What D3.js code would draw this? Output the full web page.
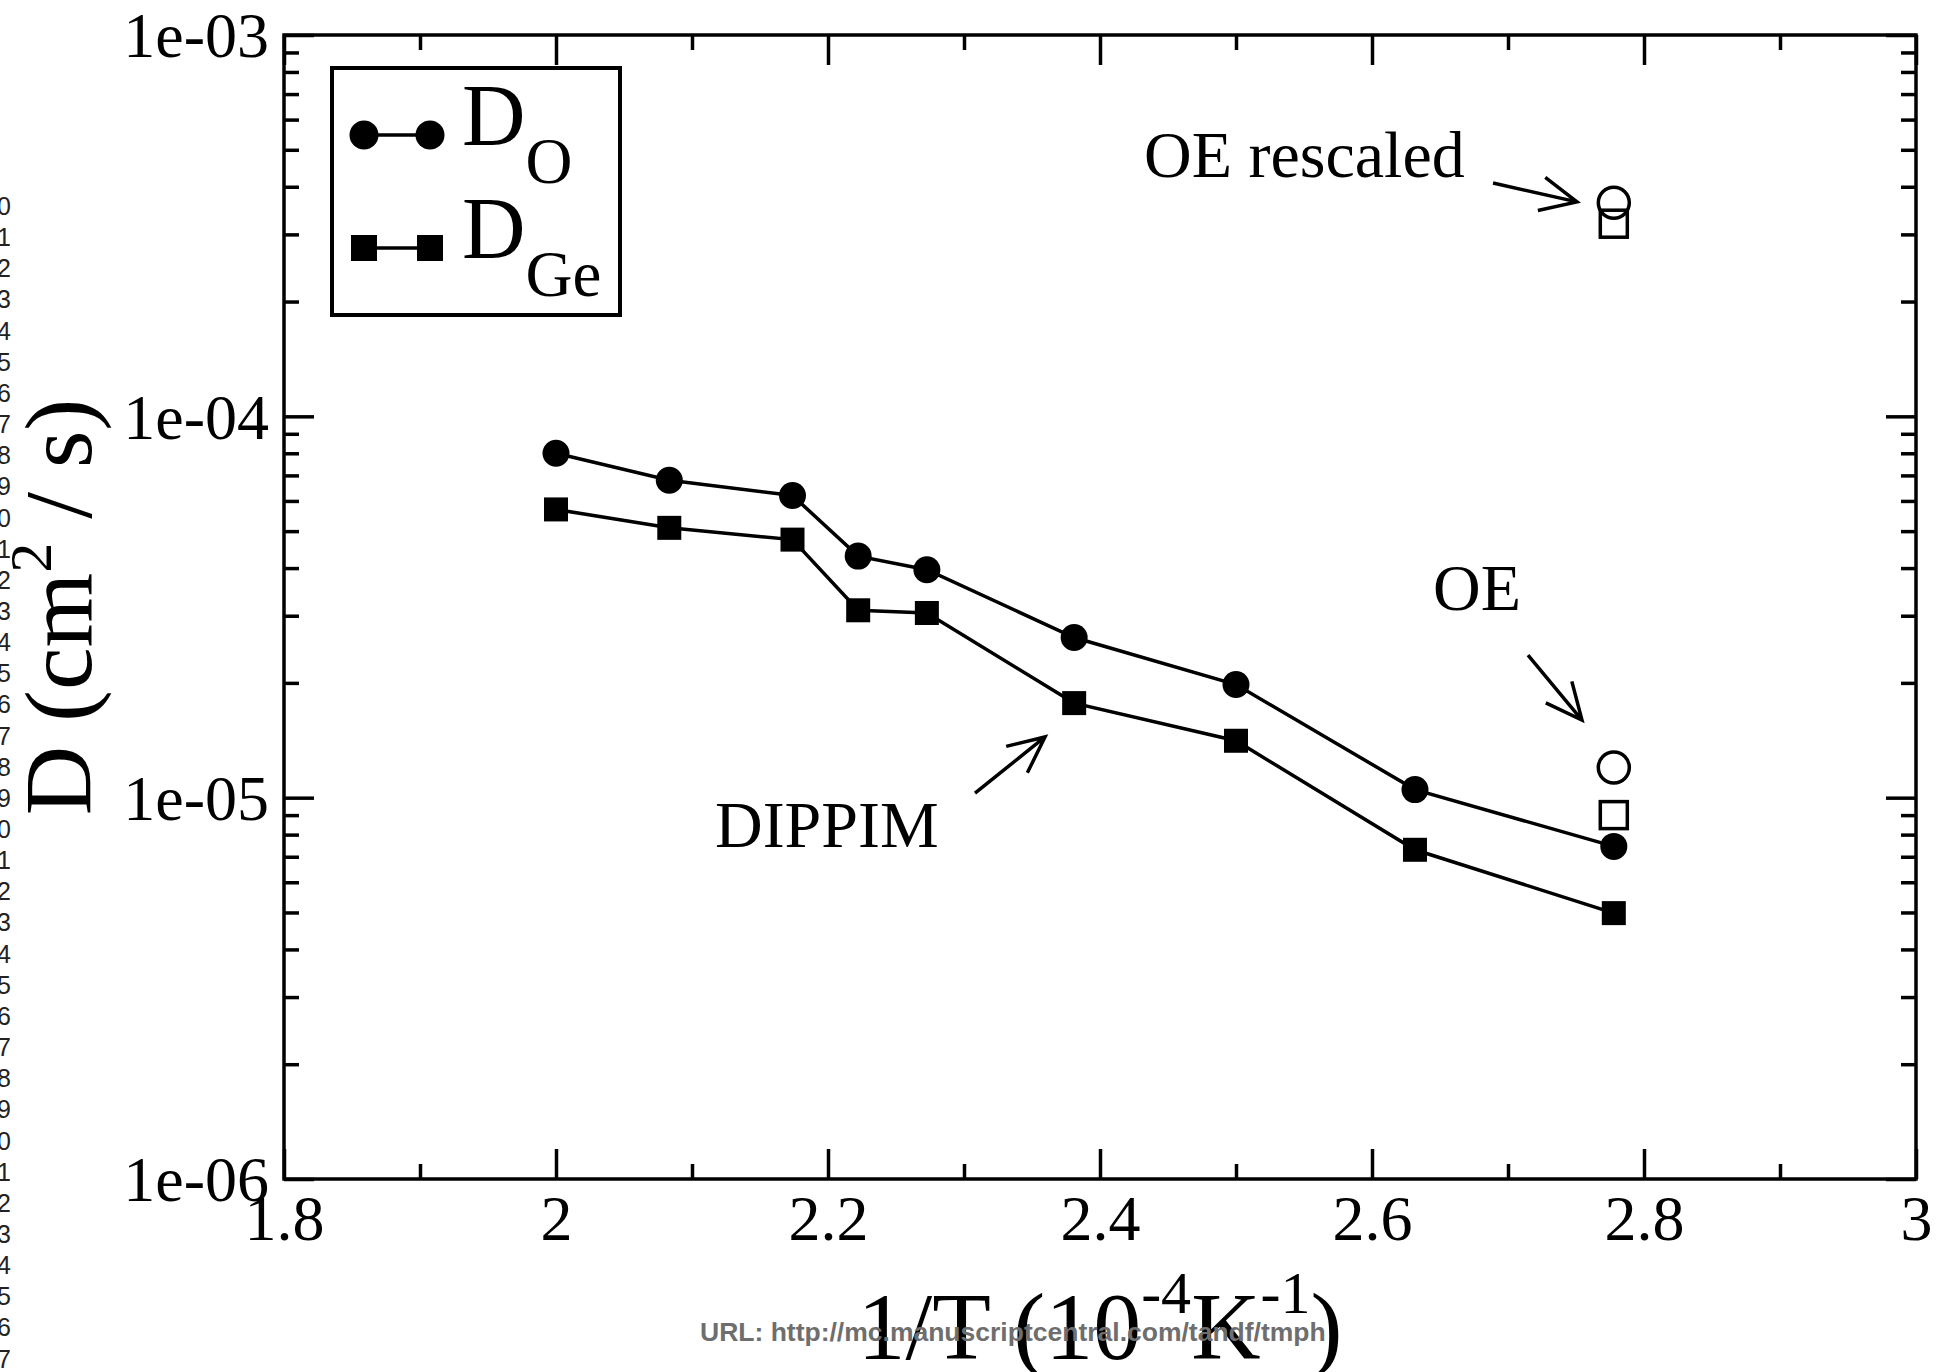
<!DOCTYPE html>
<html><head><meta charset="utf-8">
<script src="https://cdn.jsdelivr.net/npm/d3@7"></script>
<style>html,body{margin:0;padding:0;background:#fff;overflow:hidden} svg{display:block}</style>
</head><body>
<script>
// ---- data ----
const invT   = [2.0, 2.0833, 2.1739, 2.2222, 2.2727, 2.381, 2.5, 2.6316, 2.7778];
const D_O    = [8.0e-5, 6.8e-5, 6.2e-5, 4.3e-5, 3.96e-5, 2.63e-5, 1.98e-5, 1.05e-5, 7.45e-6];
const D_Ge   = [5.7e-5, 5.1e-5, 4.75e-5, 3.1e-5, 3.05e-5, 1.77e-5, 1.41e-5, 7.3e-6, 4.98e-6];
const oeX    = [2.7778];
const OE_O   = [1.2e-5];
const OE_Ge  = [9.0e-6];
const OEr_O  = [3.63e-4];
const OEr_Ge = [3.2e-4];
const xMajor = [1.8, 2.0, 2.2, 2.4, 2.6, 2.8, 3.0];
const xLabels = ["1.8", "2", "2.2", "2.4", "2.6", "2.8", "3"];
const xMinor = [1.9, 2.1, 2.3, 2.5, 2.7, 2.9];
const yMajor = [1e-6, 1e-5, 1e-4, 1e-3];
const yLabels = ["1e-06", "1e-05", "1e-04", "1e-03"];
const legendNames = ["O", "Ge"];
const annotations = [
  {text: "OE rescaled", x: 2.4324, y: 4.24e-4, x0: 2.689, y0: 4.09e-4, x1: 2.7507, y1: 3.65e-4},
  {text: "OE",          x: 2.6449, y: 3.105e-5, x0: 2.7147, y0: 2.366e-5, x1: 2.7544, y1: 1.598e-5},
  {text: "DIPPIM",      x: 2.1169, y: 7.42e-6, x0: 2.3081, y0: 1.028e-5, x1: 2.3596, y1: 1.443e-5}
];
const lineNumbers = d3.range(10, 48);
const urlText = "URL: http://mc.manuscriptcentral.com/tandf/tmph";

// ---- layout ----
const W = 1937, H = 1372;
const L = 284, R = 1916, T = 35, B = 1179;
const serif = "'Liberation Serif','Times New Roman',Times,serif";

const svg = d3.select("body").append("svg").attr("width", W).attr("height", H);

// line numbers (clipped at left edge)
svg.append("g").selectAll("text").data(lineNumbers).join("text")
  .attr("x", 11).attr("y", (d, i) => 215 + i * 31.15)
  .attr("text-anchor", "end")
  .attr("font-family", "'Liberation Sans',Arial,sans-serif")
  .attr("font-size", 25).attr("fill", "#222")
  .text(d => d);

const x = d3.scaleLinear().domain([1.8, 3.0]).range([L, R]);
const y = d3.scaleLog().domain([1e-6, 1e-3]).range([B, T]);
const yMinor = [];
[1e-6, 1e-5, 1e-4].forEach(dec => { for (let k = 2; k <= 9; k++) yMinor.push(dec * k); });

const tickW = 3.5, major = 30, minor = 15;
function styleAxis(g) {
  g.select(".domain").remove();
  g.selectAll(".tick line").attr("stroke", "#000").attr("stroke-width", tickW);
}

// bottom
svg.append("g").attr("transform", `translate(0,${B})`)
  .call(d3.axisBottom(x).tickValues(xMajor).tickSize(-major).tickPadding(16)
        .tickFormat((d, i) => xLabels[i]))
  .call(styleAxis)
  .call(g => g.selectAll("text").attr("font-family", serif).attr("font-size", 64).attr("fill", "#000"));
svg.append("g").attr("transform", `translate(0,${B})`)
  .call(d3.axisBottom(x).tickValues(xMinor).tickSize(-minor).tickFormat(""))
  .call(styleAxis);
// top
svg.append("g").attr("transform", `translate(0,${T})`)
  .call(d3.axisTop(x).tickValues(xMajor).tickSize(-major).tickFormat(""))
  .call(styleAxis);
svg.append("g").attr("transform", `translate(0,${T})`)
  .call(d3.axisTop(x).tickValues(xMinor).tickSize(-minor).tickFormat(""))
  .call(styleAxis);
// left
svg.append("g").attr("transform", `translate(${L},0)`)
  .call(d3.axisLeft(y).tickValues(yMajor).tickSize(-major).tickPadding(15)
        .tickFormat((d, i) => yLabels[i]))
  .call(styleAxis)
  .call(g => g.selectAll("text").attr("font-family", serif).attr("font-size", 64)
        .attr("fill", "#000").attr("dy", "0.34em"));
svg.append("g").attr("transform", `translate(${L},0)`)
  .call(d3.axisLeft(y).tickValues(yMinor).tickSize(-minor).tickFormat(""))
  .call(styleAxis);
// right
svg.append("g").attr("transform", `translate(${R},0)`)
  .call(d3.axisRight(y).tickValues(yMajor).tickSize(-major).tickFormat(""))
  .call(styleAxis);
svg.append("g").attr("transform", `translate(${R},0)`)
  .call(d3.axisRight(y).tickValues(yMinor).tickSize(-minor).tickFormat(""))
  .call(styleAxis);

// frame
svg.append("rect").attr("x", L).attr("y", T).attr("width", R - L).attr("height", B - T)
  .attr("fill", "none").attr("stroke", "#000").attr("stroke-width", 3.5);

// series lines
const line = d3.line().x(d => x(d[0])).y(d => y(d[1]));
const sO = invT.map((v, i) => [v, D_O[i]]);
const sGe = invT.map((v, i) => [v, D_Ge[i]]);
[sO, sGe].forEach(s => svg.append("path").datum(s).attr("d", line)
  .attr("fill", "none").attr("stroke", "#000").attr("stroke-width", 3.5));

const rC = 13.5, sq = 24;
svg.append("g").selectAll("circle").data(sO).join("circle")
  .attr("cx", d => x(d[0])).attr("cy", d => y(d[1])).attr("r", rC).attr("fill", "#000");
svg.append("g").selectAll("rect").data(sGe).join("rect")
  .attr("x", d => x(d[0]) - sq / 2).attr("y", d => y(d[1]) - sq / 2)
  .attr("width", sq).attr("height", sq).attr("fill", "#000");

// open markers (OE and OE rescaled)
const openO = [[oeX[0], OE_O[0]], [oeX[0], OEr_O[0]]];
const openGe = [[oeX[0], OE_Ge[0]], [oeX[0], OEr_Ge[0]]];
const osq = 27;
svg.append("g").selectAll("rect").data(openGe).join("rect")
  .attr("x", d => x(d[0]) - osq / 2).attr("y", d => y(d[1]) - osq / 2)
  .attr("width", osq).attr("height", osq)
  .attr("fill", "none").attr("stroke", "#000").attr("stroke-width", 3.5);
svg.append("g").selectAll("circle").data(openO).join("circle")
  .attr("cx", d => x(d[0])).attr("cy", d => y(d[1])).attr("r", 15.5)
  .attr("fill", "none").attr("stroke", "#000").attr("stroke-width", 3.5);

// annotations
const ann = svg.append("g");
annotations.forEach(a => {
  ann.append("text").attr("x", x(a.x)).attr("y", y(a.y))
    .attr("font-family", serif).attr("font-size", 66).attr("fill", "#000").text(a.text);
  const px0 = x(a.x0), py0 = y(a.y0), px1 = x(a.x1), py1 = y(a.y1);
  const ang = Math.atan2(py1 - py0, px1 - px0);
  const hl = 40, ha = 25 * Math.PI / 180;
  const b1 = [px1 - hl * Math.cos(ang - ha), py1 - hl * Math.sin(ang - ha)];
  const b2 = [px1 - hl * Math.cos(ang + ha), py1 - hl * Math.sin(ang + ha)];
  ann.append("path")
    .attr("d", `M${px0},${py0}L${px1},${py1}M${b1[0]},${b1[1]}L${px1},${py1}L${b2[0]},${b2[1]}`)
    .attr("fill", "none").attr("stroke", "#000").attr("stroke-width", 3.5);
});

// legend
const lg = svg.append("g");
lg.append("rect").attr("x", 332).attr("y", 68).attr("width", 288).attr("height", 247)
  .attr("fill", "#fff").attr("stroke", "#000").attr("stroke-width", 4);
legendNames.forEach((n, i) => {
  const cy = 135 + i * 113;
  lg.append("line").attr("x1", 364).attr("x2", 430).attr("y1", cy).attr("y2", cy)
    .attr("stroke", "#000").attr("stroke-width", 3.5);
  [364, 430].forEach(cx => {
    if (i === 0) lg.append("circle").attr("cx", cx).attr("cy", cy).attr("r", 14.5).attr("fill", "#000");
    else lg.append("rect").attr("x", cx - 13).attr("y", cy - 13).attr("width", 26).attr("height", 26).attr("fill", "#000");
  });
  const t = lg.append("text").attr("x", 462).attr("y", cy + 10)
    .attr("font-family", serif).attr("font-size", 88).attr("fill", "#000");
  t.append("tspan").text("D");
  t.append("tspan").attr("font-size", 65).attr("dy", 38).text(n);
});

// axis titles
const xt = svg.append("text").attr("x", (L + R) / 2).attr("y", 1359).attr("text-anchor", "middle")
  .attr("font-family", serif).attr("font-size", 96).attr("fill", "#000");
xt.append("tspan").text("1/T (10");
xt.append("tspan").attr("font-size", 60).attr("dy", -46).text("-4");
xt.append("tspan").attr("dy", 46).text("K");
xt.append("tspan").attr("font-size", 60).attr("dy", -46).text("-1");
xt.append("tspan").attr("dy", 46).text(")");

const yt = svg.append("text").attr("transform", `translate(91,${(T + B) / 2}) rotate(-90)`)
  .attr("text-anchor", "middle")
  .attr("font-family", serif).attr("font-size", 96).attr("fill", "#000");
yt.append("tspan").text("D (cm");
yt.append("tspan").attr("font-size", 60).attr("dy", -40).text("2");
yt.append("tspan").attr("dy", 40).text(" / s)");

// watermark URL
svg.append("text").attr("x", 700).attr("y", 1341)
  .attr("font-family", "'Liberation Sans',Arial,sans-serif").attr("font-weight", "bold")
  .attr("font-size", 26.5).attr("fill", "#6e6e6e").text(urlText);
</script>
</body></html>
